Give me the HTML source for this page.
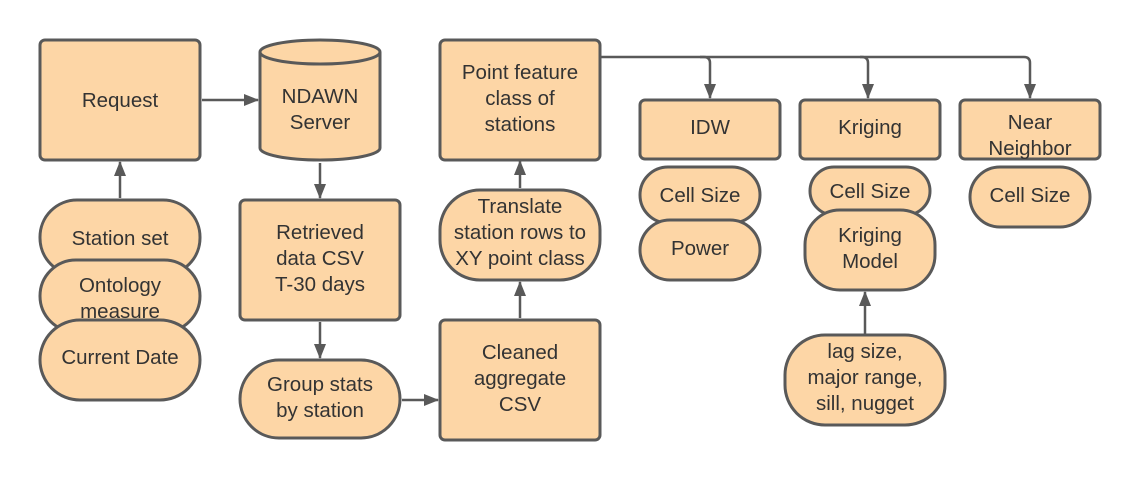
<!DOCTYPE html>
<html><head><style>body{margin:0;background:#fff}svg{display:block}text{font-family:"Liberation Sans",sans-serif;font-size:20.5px;fill:#333;text-anchor:middle}</style></head>
<body>
<svg width="1140" height="480" viewBox="0 0 1140 480">
<defs><marker id="a" markerWidth="16" markerHeight="14" refX="14" refY="7" orient="auto" markerUnits="userSpaceOnUse" viewBox="0 0 16 14"><path d="M0,1 L15,7 L0,13z" fill="#595959"/></marker></defs>
<g stroke="#595959" stroke-width="2.5" fill="none" marker-end="url(#a)">
<path d="M202,100 H258"/>
<path d="M320,163 V198"/>
<path d="M320,322 V358"/>
<path d="M402,400 H438"/>
<path d="M520,318 V282"/>
<path d="M520,188 V161"/>
<path d="M120,198 V162"/>
<path d="M865,335 V292"/>
<path d="M600,57 H704 Q710,57 710,63 V98"/>
<path d="M700,57 H862 Q868,57 868,63 V98"/>
<path d="M860,57 H1024 Q1030,57 1030,63 V98"/>
</g>
<g fill="#fdd6a6" stroke="#595959" stroke-width="3">
<rect x="40" y="40" width="160" height="120" rx="5"/>
<path d="M260,52 V148 A60,12 0 0 0 380,148 V52 A60,12 0 0 0 260,52 Z"/>
<path d="M260,52 A60,12 0 0 0 380,52"/>
<rect x="240" y="200" width="160" height="120" rx="5"/>
<rect x="240" y="360" width="160" height="78" rx="39"/>
<rect x="440" y="320" width="160" height="120" rx="5"/>
<rect x="440" y="190" width="160" height="90" rx="40"/>
<rect x="440" y="40" width="160" height="120" rx="5"/>
<rect x="40" y="200" width="160" height="75" rx="37"/>
<rect x="40" y="260" width="160" height="72" rx="36"/>
<rect x="40" y="320" width="160" height="80" rx="40"/>
<rect x="640" y="100" width="140" height="59" rx="5"/>
<rect x="640" y="167" width="120" height="56" rx="28"/>
<rect x="640" y="220" width="120" height="60" rx="30"/>
<rect x="800" y="100" width="140" height="59" rx="5"/>
<rect x="810" y="167" width="120" height="48" rx="24"/>
<rect x="805" y="210" width="130" height="80" rx="35"/>
<rect x="785" y="335" width="160" height="90" rx="40"/>
<rect x="960" y="100" width="140" height="59" rx="5"/>
<rect x="970" y="167" width="120" height="60" rx="30"/>
</g>
<text x="120" y="107">Request</text>
<text x="320" y="103">NDAWN</text><text x="320" y="129">Server</text>
<text x="320" y="239">Retrieved</text><text x="320" y="265">data CSV</text><text x="320" y="291">T-30 days</text>
<text x="320" y="391">Group stats</text><text x="320" y="417">by station</text>
<text x="520" y="359">Cleaned</text><text x="520" y="385">aggregate</text><text x="520" y="411">CSV</text>
<text x="520" y="213">Translate</text><text x="520" y="239">station rows to</text><text x="520" y="265">XY point class</text>
<text x="520" y="79">Point feature</text><text x="520" y="105">class of</text><text x="520" y="131">stations</text>
<text x="120" y="245">Station set</text>
<text x="120" y="292">Ontology</text><text x="120" y="318">measure</text>
<text x="120" y="364">Current Date</text>
<text x="710" y="134">IDW</text>
<text x="700" y="202">Cell Size</text>
<text x="700" y="255">Power</text>
<text x="870" y="134">Kriging</text>
<text x="870" y="198">Cell Size</text>
<text x="870" y="242">Kriging</text><text x="870" y="268">Model</text>
<text x="865" y="358">lag size,</text><text x="865" y="384">major range,</text><text x="865" y="410">sill, nugget</text>
<text x="1030" y="129">Near</text><text x="1030" y="155">Neighbor</text>
<text x="1030" y="202">Cell Size</text>
</svg>
</body></html>
